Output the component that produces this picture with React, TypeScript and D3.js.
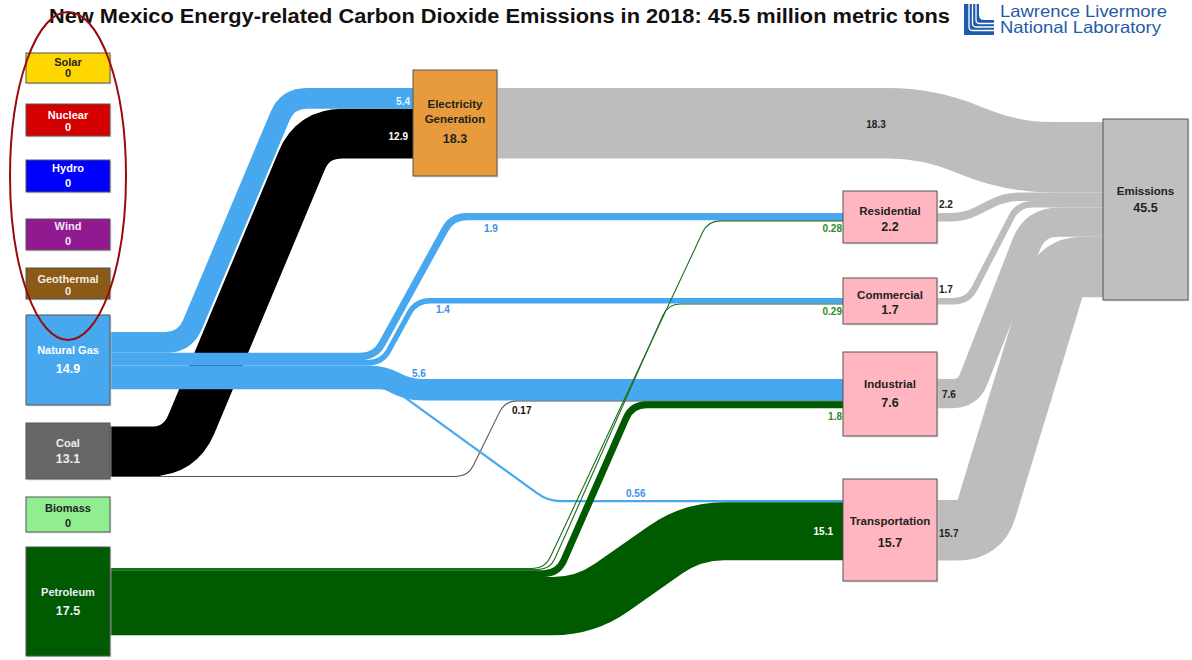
import React from "react";
import * as d3 from "d3";

// ---------------- DATA ----------------
const title = "New Mexico Energy-related Carbon Dioxide Emissions in 2018: 45.5 million metric tons";
const sourceNames = ["Solar", "Nuclear", "Hydro", "Wind", "Geothermal", "Natural Gas", "Coal", "Biomass", "Petroleum"];
const sourceValues = [0, 0, 0, 0, 0, 14.9, 13.1, 0, 17.5];
const sectorNames = ["Electricity Generation", "Residential", "Commercial", "Industrial", "Transportation"];
const sectorValues = [18.3, 2.2, 1.7, 7.6, 15.7];
const emissionsName = "Emissions";
const emissionsValue = 45.5;
const flowFrom = ["Natural Gas", "Coal", "Natural Gas", "Natural Gas", "Natural Gas", "Natural Gas", "Coal", "Petroleum", "Petroleum", "Petroleum", "Petroleum"];
const flowTo = ["Electricity Generation", "Electricity Generation", "Residential", "Commercial", "Industrial", "Transportation", "Industrial", "Residential", "Commercial", "Industrial", "Transportation"];
const flowValues = [5.4, 12.9, 1.9, 1.4, 5.6, 0.56, 0.17, 0.28, 0.29, 1.8, 15.1];

// ---------------- LAYOUT / STYLE ----------------
const FONT = "'Liberation Sans', Arial, Helvetica, sans-serif";
const widthScale = d3.scaleLinear().domain([0, 1]).range([0, 3.85]);

type Box = { x: number; y: number; w: number; h: number; fill: string; text: string; lines: number[]; valueY: number };
const boxes: Record<string, Box> = {
  Solar: { x: 26, y: 53, w: 84, h: 30, fill: "#FFD700", text: "#222", lines: [66], valueY: 77 },
  Nuclear: { x: 26, y: 104, w: 84, h: 32, fill: "#D50000", text: "#fff", lines: [119], valueY: 131 },
  Hydro: { x: 26, y: 160, w: 84, h: 32, fill: "#0000FF", text: "#fff", lines: [172], valueY: 187 },
  Wind: { x: 26, y: 219, w: 84, h: 31, fill: "#911A91", text: "#f3e6f3", lines: [230], valueY: 245 },
  Geothermal: { x: 26, y: 268, w: 84, h: 31, fill: "#8B5A17", text: "#f3ece0", lines: [283], valueY: 295 },
  "Natural Gas": { x: 26, y: 315, w: 84, h: 90, fill: "#47A8F0", text: "#fff", lines: [354], valueY: 373 },
  Coal: { x: 26, y: 423, w: 84, h: 56, fill: "#676767", text: "#eee", lines: [447], valueY: 463 },
  Biomass: { x: 26, y: 497, w: 84, h: 35, fill: "#90EE90", text: "#222", lines: [512], valueY: 527 },
  Petroleum: { x: 26, y: 547, w: 84, h: 109, fill: "#005A00", text: "#eef", lines: [596], valueY: 615 },
  "Electricity Generation": { x: 413, y: 70, w: 84, h: 106, fill: "#E89B3C", text: "#222", lines: [108, 123], valueY: 143 },
  Residential: { x: 843, y: 191, w: 94, h: 52, fill: "#FFB6C1", text: "#222", lines: [215], valueY: 231 },
  Commercial: { x: 843, y: 278, w: 94, h: 46, fill: "#FFB6C1", text: "#222", lines: [299], valueY: 314 },
  Industrial: { x: 843, y: 352, w: 94, h: 84, fill: "#FFB6C1", text: "#222", lines: [388], valueY: 407 },
  Transportation: { x: 843, y: 479, w: 94, h: 102, fill: "#FFB6C1", text: "#222", lines: [525], valueY: 547 },
  Emissions: { x: 1103, y: 119, w: 85, h: 181, fill: "#BFBFBF", text: "#222", lines: [195], valueY: 212 },
};
const nameLines: Record<string, string[]> = { "Electricity Generation": ["Electricity", "Generation"] };

const sourceOutStart: Record<string, number> = { "Natural Gas": 332, Coal: 426.5, Petroleum: 568 };
const targetInStart: Record<string, number> = { "Electricity Generation": 88, Residential: 213, Commercial: 298, Industrial: 379, Transportation: 500 };
const emissionsInStart = 122;
const flowColors: Record<string, string> = { "Natural Gas": "#47A8F0", Coal: "#000000", Petroleum: "#005A00" };
const thinColors: Record<string, string> = { "Natural Gas": "#47A8F0", Coal: "#555555", Petroleum: "#1E6E1E" };
const grayFlow = "#BDBDBD";
// corner x positions for each flow (in flow order)
const flowCorners = [
  [185, 287.5], [180, 313], [375, 452], [382, 416], [383, 408], [392, 548],
  [468, 505], [545, 708], [550, 668], [558, 632], [585, 692],
];
const emissionCorners = [[928, 1012], [965, 1005], [968, 1018], [968, 1035], [980, 1060]];
const drawOrder = [1, 6, 0, 2, 3, 4, 5, 7, 8, 9, 10];

type Lab = { x: number; y: number; anchor: string; color: string };
const flowLabelPos: Lab[] = [
  { x: 410, y: 105, anchor: "end", color: "#e6f3ff" },
  { x: 408, y: 140, anchor: "end", color: "#ffffff" },
  { x: 484, y: 232, anchor: "start", color: "#3D8EE8" },
  { x: 436, y: 313, anchor: "start", color: "#3D8EE8" },
  { x: 412, y: 377, anchor: "start", color: "#3D8EE8" },
  { x: 626, y: 497, anchor: "start", color: "#3D8EE8" },
  { x: 512, y: 414, anchor: "start", color: "#111" },
  { x: 842, y: 232, anchor: "end", color: "#2E8B2E" },
  { x: 842, y: 315, anchor: "end", color: "#2E8B2E" },
  { x: 842, y: 420, anchor: "end", color: "#2E8B2E" },
  { x: 833, y: 535, anchor: "end", color: "#ffffff" },
];
const emissionLabelPos: Lab[] = [
  { x: 876, y: 128, anchor: "middle", color: "#222" },
  { x: 939, y: 208, anchor: "start", color: "#222" },
  { x: 939, y: 293, anchor: "start", color: "#222" },
  { x: 942, y: 398, anchor: "start", color: "#222" },
  { x: 939, y: 537, anchor: "start", color: "#222" },
];

function roundedPath(pts: number[][], r: number): string {
  const p = d3.path();
  p.moveTo(pts[0][0], pts[0][1]);
  for (let i = 1; i < pts.length - 1; i++) {
    const [ax, ay] = pts[i - 1];
    const [bx, by] = pts[i];
    const [cx, cy] = pts[i + 1];
    const d1 = Math.hypot(bx - ax, by - ay);
    const d2 = Math.hypot(cx - bx, cy - by);
    const rr = Math.min(r, d1 / 2, d2 / 2);
    p.lineTo(bx + ((ax - bx) * rr) / d1, by + ((ay - by) * rr) / d1);
    p.quadraticCurveTo(bx, by, bx + ((cx - bx) * rr) / d2, by + ((cy - by) * rr) / d2);
  }
  const last = pts[pts.length - 1];
  p.lineTo(last[0], last[1]);
  return p.toString();
}

function fmt(v: number) {
  return String(v);
}

export default function App() {
  const outCursor: Record<string, number> = { ...sourceOutStart };
  const inCursor: Record<string, number> = { ...targetInStart };
  const flows = flowValues.map((v, i) => {
    const w = widthScale(v);
    const s = flowFrom[i];
    const t = flowTo[i];
    const sy = outCursor[s] + w / 2;
    outCursor[s] += w;
    const ty = inCursor[t] + w / 2;
    inCursor[t] += w;
    const sb = boxes[s];
    const tb = boxes[t];
    const [c1, c2] = flowCorners[i];
    const pts = [[sb.x + sb.w, sy], [c1, sy], [c2, ty], [tb.x, ty]];
    return { i, w, s, d: roundedPath(pts, 12 + w * 0.35) };
  });

  let emCursor = emissionsInStart;
  const emFlows = sectorValues.map((v, i) => {
    const w = widthScale(v);
    const name = sectorNames[i];
    const sb = boxes[name];
    const sy = targetInStart[name] + w / 2;
    const ty = emCursor + w / 2;
    emCursor += w;
    const eb = boxes[emissionsName];
    const [c1, c2] = emissionCorners[i];
    const pts = [[sb.x + sb.w, sy], [c1, sy], [c2, ty], [eb.x + 2, ty]];
    return { i, w, d: roundedPath(pts, 12 + w * 0.4) };
  });

  const allNodes: { name: string; value: number }[] = [
    ...sourceNames.map((n, i) => ({ name: n, value: sourceValues[i] })),
    ...sectorNames.map((n, i) => ({ name: n, value: sectorValues[i] })),
    { name: emissionsName, value: emissionsValue },
  ];

  return (
    <svg
      width={1192}
      height={660}
      viewBox="0 0 1192 660"
      style={{ position: "absolute", left: 0, top: 0, background: "#fff", fontFamily: FONT }}
    >
      <rect x={0} y={0} width={1192} height={660} fill="#fff" />
      {emFlows.map((f) => (
        <path key={"e" + f.i} d={f.d} fill="none" stroke={grayFlow} strokeWidth={f.w} />
      ))}
      {drawOrder.map((idx) => {
        const f = flows[idx];
        const thin = f.w < 1.2;
        return (
          <path
            key={"f" + idx}
            d={f.d}
            fill="none"
            stroke={thin ? thinColors[f.s] : flowColors[f.s]}
            strokeWidth={thin ? 1.1 : f.w}
          />
        );
      })}
      {allNodes.map((n) => {
        const b = boxes[n.name];
        const lines = nameLines[n.name] || [n.name];
        const isSector = sectorNames.includes(n.name) || n.name === emissionsName;
        return (
          <g key={n.name}>
            <rect x={b.x + 1.5} y={b.y + 1.5} width={b.w} height={b.h} fill="#cfcfcf" opacity={0.6} />
            <rect x={b.x} y={b.y} width={b.w} height={b.h} fill={b.fill} stroke="#555" strokeWidth={1} />
            {lines.map((ln, k) => (
              <text
                key={k}
                x={b.x + b.w / 2}
                y={b.lines[k]}
                textAnchor="middle"
                fontSize={isSector ? 11.5 : 11}
                fontWeight="bold"
                fill={b.text}
              >
                {ln}
              </text>
            ))}
            <text
              x={b.x + b.w / 2}
              y={b.valueY}
              textAnchor="middle"
              fontSize={n.value === 0 ? 11 : 12.5}
              fontWeight="bold"
              fill={b.text}
            >
              {fmt(n.value)}
            </text>
          </g>
        );
      })}
      {flowValues.map((v, i) => {
        const l = flowLabelPos[i];
        return (
          <text key={"fl" + i} x={l.x} y={l.y} textAnchor={l.anchor as any} fontSize={10} fontWeight="bold" fill={l.color}>
            {fmt(v)}
          </text>
        );
      })}
      {sectorValues.map((v, i) => {
        const l = emissionLabelPos[i];
        return (
          <text key={"el" + i} x={l.x} y={l.y} textAnchor={l.anchor as any} fontSize={10} fontWeight="bold" fill={l.color}>
            {fmt(v)}
          </text>
        );
      })}
      <text x={49} y={23} fontSize={19.5} fontWeight="bold" fill="#111" textLength={901} lengthAdjust="spacingAndGlyphs">
        {title}
      </text>
      <g>
        <rect x={964} y={4} width={30} height={31} fill="#1F5BAA" />
        <path d="M979,4 V15 Q979,20 984,20 H994 V4 Z" fill="#fff" />
        {[0, 1, 2].map((k) => (
          <path
            key={k}
            d={`M${969 + k * 3.5},4 V${27 - k * 3.5} Q${969 + k * 3.5},${30.5 - k * 3.5} ${973 + k * 3.5},${30.5 - k * 3.5} H994`}
            fill="none"
            stroke="#fff"
            strokeWidth={1.3}
          />
        ))}
        <text x={1000} y={17} fontSize={16.5} fill="#1F5BAA" textLength={167} lengthAdjust="spacingAndGlyphs">
          Lawrence Livermore
        </text>
        <text x={1000} y={33} fontSize={16.5} fill="#1F5BAA" textLength={161} lengthAdjust="spacingAndGlyphs">
          National Laboratory
        </text>
      </g>
      <ellipse cx={68} cy={176} rx={58} ry={164} fill="none" stroke="#9B0A0A" strokeWidth={2} />
    </svg>
  );
}
